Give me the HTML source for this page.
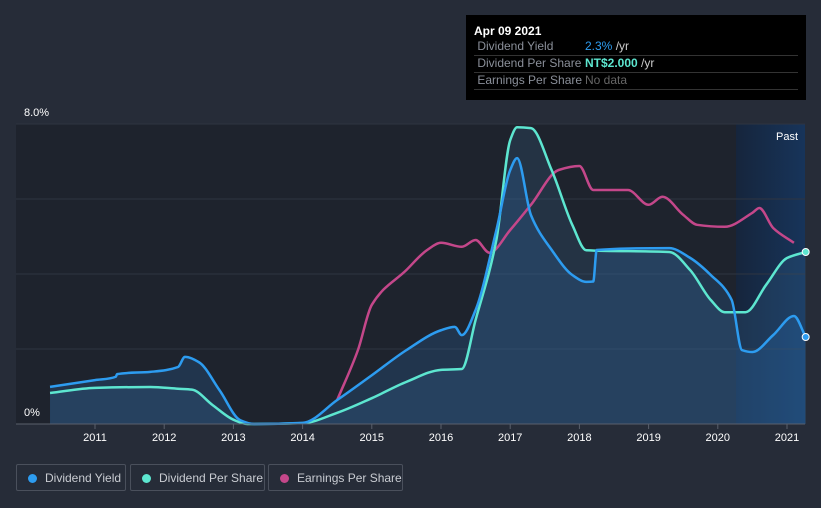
<!DOCTYPE html>
<html><head><meta charset="utf-8"><style>
body{margin:0;background:#262c38;font-family:"Liberation Sans",sans-serif;}
#wrap{position:relative;width:821px;height:508px;overflow:hidden;background:#262c38}
.tt{position:absolute;left:466px;top:15px;width:340px;height:85px;background:#000;color:#fff;font-size:12px}
.tt .r{position:absolute;left:8px;width:324px;height:16px;border-bottom:1px solid #333;color:#8a8f99}
.leg{position:absolute;top:464px;height:27px;border:1px solid #4a505c;border-radius:2px;color:#c9ccd2;font-size:12px;line-height:27px;box-sizing:border-box;white-space:nowrap}
.leg i{display:inline-block;width:9px;height:9px;border-radius:50%;margin:0 8px 0 11px;vertical-align:-1px}
</style></head><body>
<div id="wrap">
<svg id="svg" width="821" height="508" style="position:absolute;left:0;top:0"></svg>
<div class="tt">
<div style="position:absolute;left:8px;top:9px;font-weight:bold">Apr 09 2021</div>
<div class="r" style="top:24px">&nbsp;Dividend Yield<span style="position:absolute;left:111px"><span style="color:#2d9cf0">2.3%</span> <span style="color:#ccc">/yr</span></span></div>
<div class="r" style="top:41px">&nbsp;Dividend Per Share<span style="position:absolute;left:111px"><span style="color:#5de6d0;font-weight:bold">NT$2.000</span> <span style="color:#ccc">/yr</span></span></div>
<div class="r" style="top:58px">&nbsp;Earnings Per Share<span style="position:absolute;left:111px;color:#666">No data</span></div>
</div>
<div class="leg" style="left:16px;width:110px"><i style="background:#2d9cf0"></i>Dividend Yield</div>
<div class="leg" style="left:130px;width:135px"><i style="background:#5de6d0"></i>Dividend Per Share</div>
<div class="leg" style="left:268px;width:135px"><i style="background:#c4478a"></i>Earnings Per Share</div>
</div>
<script>
const years=[2011,2012,2013,2014,2015,2016,2017,2018,2019,2020,2021];
const yTicks=["0%","8.0%"];
const yieldT=[2010.35,2011,2011.3,2011.32,2011.8,2012.2,2012.3,2012.5,2012.8,2013.1,2013.3,2014,2014.5,2015,2015.5,2016,2016.2,2016.3,2016.5,2016.8,2017,2017.1,2017.3,2017.6,2017.9,2018.1,2018.2,2018.25,2019.3,2019.6,2019.9,2020.2,2020.35,2020.5,2020.8,2021.1,2021.27];
const yieldV=[0.99,1.17,1.26,1.33,1.39,1.52,1.79,1.65,0.9,0.1,0,0.03,0.64,1.3,1.97,2.5,2.59,2.37,3.04,5.17,6.77,7.09,5.57,4.64,3.97,3.79,3.8,4.64,4.69,4.43,3.97,3.31,1.97,1.92,2.37,2.88,2.32];
const dpsT=[2010.35,2011,2011.8,2012.2,2012.4,2012.7,2013,2013.2,2014,2014.5,2015,2015.5,2016,2016.3,2016.5,2016.8,2017,2017.1,2017.3,2017.6,2017.9,2018.1,2019.3,2019.6,2019.9,2020.1,2020.4,2020.7,2021,2021.27];
const dpsV=[0.36,0.42,0.43,0.41,0.40,0.22,0.05,0,0.01,0.13,0.30,0.49,0.63,0.64,1.21,2.14,3.30,3.45,3.44,2.95,2.31,2.02,2.0,1.79,1.44,1.30,1.30,1.62,1.93,2.0];
const epsT=[2014.5,2014.8,2015,2015.5,2015.8,2016,2016.3,2016.5,2016.7,2017,2017.3,2017.7,2018,2018.2,2018.7,2019,2019.2,2019.5,2019.7,2020.1,2020.5,2020.6,2020.8,2021.1];
const epsV=[0.6,1.85,2.98,3.85,4.35,4.53,4.43,4.6,4.28,4.85,5.48,6.35,6.45,5.85,5.85,5.48,5.68,5.23,4.98,4.93,5.28,5.4,4.9,4.53];
const X=t=>95+(t-2011)*69.2, Y0=424;
const yY=v=>Y0-v/8*300, yD=v=>Y0-v*86, yE=v=>Y0-v*40;
const NS="http://www.w3.org/2000/svg", svg=document.getElementById('svg');
function mk(tag,a,parent){const e=document.createElementNS(NS,tag);for(const k in a)e.setAttribute(k,a[k]);(parent||svg).appendChild(e);return e;}
function path(ts,vs,fy){const p=ts.map((t,i)=>[X(t),fy(vs[i])]);const n=p.length;
const dx=[],s=[];for(let i=0;i<n-1;i++){dx[i]=p[i+1][0]-p[i][0];s[i]=(p[i+1][1]-p[i][1])/dx[i];}
const m=[];m[0]=s[0];m[n-1]=s[n-2];
for(let i=1;i<n-1;i++){if(s[i-1]*s[i]<=0)m[i]=0;else{const w1=2*dx[i]+dx[i-1],w2=dx[i]+2*dx[i-1];m[i]=(w1+w2)/(w1/s[i-1]+w2/s[i]);}}
let d=`M${p[0][0]},${p[0][1]}`;
for(let i=0;i<n-1;i++){const h=dx[i]/3;d+=` C${p[i][0]+h},${p[i][1]+m[i]*h} ${p[i+1][0]-h},${p[i+1][1]-m[i+1]*h} ${p[i+1][0]},${p[i+1][1]}`;}
return [d,p];}
const defs=mk('defs',{});
const g=mk('linearGradient',{id:'pg',x1:0,x2:1,y1:0,y2:0},defs);mk('stop',{offset:0,'stop-color':'#16253c'},g);mk('stop',{offset:1,'stop-color':'#17345a'},g);
let r=mk('rect',{x:16,y:124,width:789,height:300,fill:'#1e232d'});
r=mk('rect',{x:736,y:124,width:69,height:300,fill:'url(#pg)'});
[124,199,274,349].forEach(y=>{const l=mk('line',{x1:16,x2:805,y1:y,y2:y,stroke:'#2f3541','stroke-width':1});});
let t=mk('text',{x:787,y:140,fill:'#fff','font-size':11,'text-anchor':'middle'});t.textContent='Past';
function series(ts,vs,fy,col,name,fill){const [d,p]=path(ts,vs,fy);
if(fill){const f=mk('path',{d:d+` L${p[p.length-1][0]},${Y0} L${p[0][0]},${Y0} Z`,fill:fill});}
const l=mk('path',{d:d,fill:'none',stroke:col,'stroke-width':2.5});return p;}
series(dpsT,dpsV,yD,'none','dps-fill','rgba(60,110,150,0.22)');
series(yieldT,yieldV,yY,'none','yield-fill','rgba(45,120,190,0.22)');
series(epsT,epsV,yE,'#c4478a','earnings-per-share');
const pd=series(dpsT,dpsV,yD,'#5de6d0','dividend-per-share');
const py=series(yieldT,yieldV,yY,'#2d9cf0','dividend-yield');
let c=mk('circle',{cx:pd[pd.length-1][0],cy:pd[pd.length-1][1],r:3.5,fill:'#5de6d0',stroke:'#fff','stroke-width':1});
c=mk('circle',{cx:py[py.length-1][0],cy:py[py.length-1][1],r:3.5,fill:'#2d9cf0',stroke:'#fff','stroke-width':1});
const ax=mk('line',{x1:16,x2:805,y1:424,y2:424,stroke:'#5a606c','stroke-width':1});
years.forEach(yr=>{const x=X(yr);const tk=mk('line',{x1:x,x2:x,y1:424,y2:429,stroke:'#5a606c'});
const tx=mk('text',{x:x,y:441,fill:'#fff','font-size':11,'text-anchor':'middle'});tx.textContent=yr;});
[[0,416],[1,116]].forEach(([i,y])=>{const tx=mk('text',{x:24,y:y,fill:'#fff','font-size':11});tx.textContent=yTicks[i];});
</script>
</body></html>
